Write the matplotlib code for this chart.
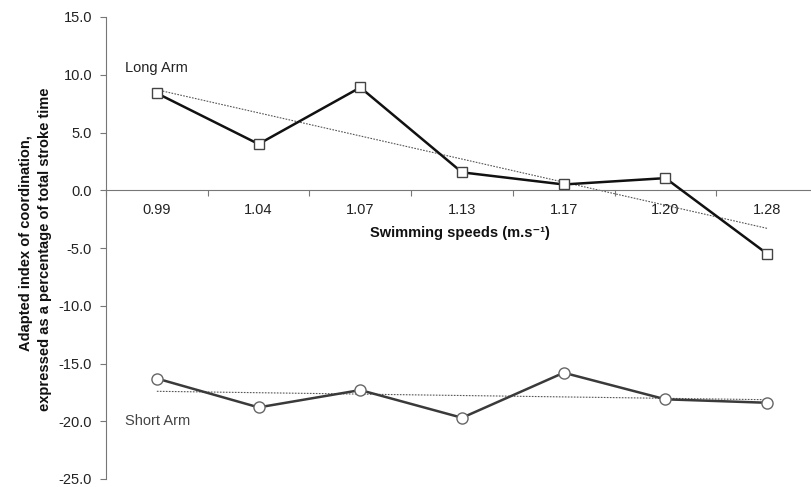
import numpy as np
import matplotlib
matplotlib.use("Agg")
import matplotlib.pyplot as plt

plt.rcParams['font.family'] = ['Liberation Sans', 'DejaVu Sans']

speeds = ["0.99", "1.04", "1.07", "1.13", "1.17", "1.20", "1.28"]
long_arm = [8.4, 4.0, 8.9, 1.55, 0.5, 1.05, -5.5]
short_arm = [-16.3, -18.8, -17.3, -19.7, -15.8, -18.1, -18.4]
y_ticks = [15, 10, 5, 0, -5, -10, -15, -20, -25]

fig = plt.figure(figsize=(8.12, 4.87), dpi=100)
ax = fig.add_axes([106 / 812, 8 / 487, 712 / 812, 462 / 487])

x = np.arange(len(speeds))

# linear trend lines
for vals in (long_arm, short_arm):
    k, b = np.polyfit(x, vals, 1)
    ax.plot(x, k * x + b, color="#555555", lw=0.8, ls=(0, (1.5, 1.2)), zorder=2)

ax.plot(x, long_arm, color="#111111", lw=1.8, marker="s", ms=7,
        mfc="white", mec="#444444", mew=1.0, zorder=3)
ax.plot(x, short_arm, color="#3a3a3a", lw=1.8, marker="o", ms=8,
        mfc="white", mec="#666666", mew=1.0, zorder=3)

ax.set_xlim(-0.5, len(speeds) - 0.5)
ax.set_ylim(-25, 15)
ax.set_yticks(y_ticks)
ax.set_yticklabels([f"{v:.1f}" for v in y_ticks], fontsize=10.5, color="#222222")

# x axis drawn at y = 0, with ticks between categories
ax.spines['bottom'].set_position(('data', 0))
ax.spines['top'].set_visible(False)
ax.spines['right'].set_visible(False)
ax.spines['left'].set_color("#777777")
ax.spines['bottom'].set_color("#777777")
ax.set_xticks(np.arange(len(speeds) + 1) - 0.5)
ax.set_xticklabels([])
ax.set_xticks(x, minor=True)
ax.set_xticklabels(speeds, minor=True, fontsize=10.5, color="#222222")
ax.tick_params(axis='x', which='minor', length=0, pad=9)
ax.tick_params(axis='x', which='major', direction='out', length=4, color="#777777")
ax.tick_params(axis='y', direction='out', length=4, color="#777777", pad=6)

ax.text(2.98, -3.7, "Swimming speeds (m.s\u207b\u00b9)", ha='center', va='center',
        fontsize=10.5, fontweight='bold', color="#111111")

ax.text(-0.31, 10.6, "Long Arm", fontsize=10.5, color="#222222", va='center')
ax.text(-0.31, -20.0, "Short Arm", fontsize=10.5, color="#444444", va='center')

fig.text(26 / 812, 1 - 243 / 487, "Adapted index of coordination,",
         rotation=90, ha='center', va='center', fontsize=10.5, fontweight='bold',
         color="#111111")
fig.text(45 / 812, 1 - 249 / 487, "expressed as a percentage of total stroke time",
         rotation=90, ha='center', va='center', fontsize=10.5, fontweight='bold',
         color="#111111")

fig.savefig("out.png", dpi=100)
